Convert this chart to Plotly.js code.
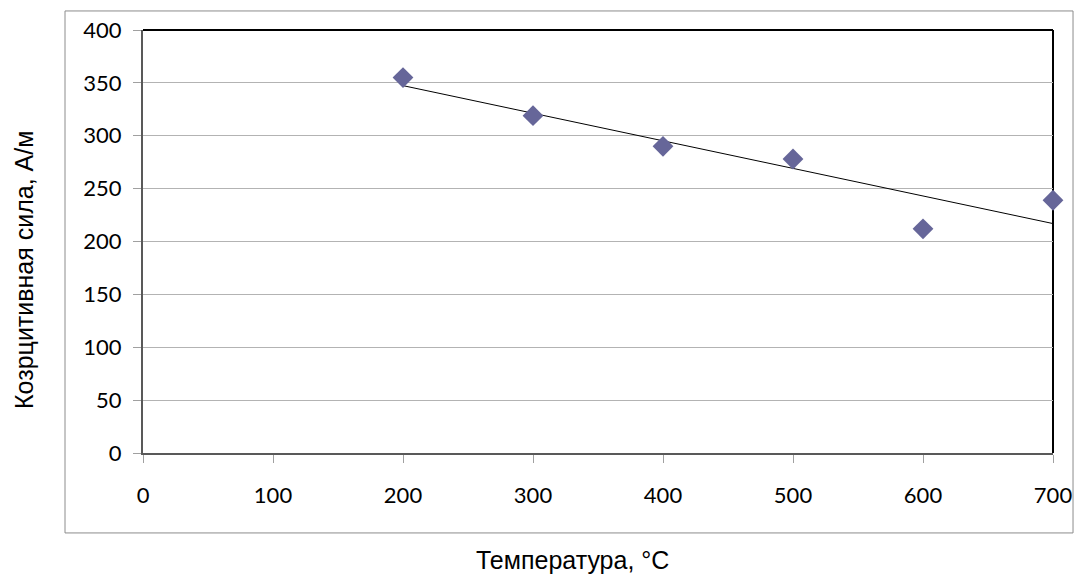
<!DOCTYPE html>
<html><head><meta charset="utf-8">
<script src="https://cdn.plot.ly/plotly-3.0.1.min.js"></script>
<style>html,body{margin:0;padding:0;background:#fff}#chart{width:1074px;height:574px}</style>
</head><body><div id="chart"></div>
<script>
const temperatures = [200, 300, 400, 500, 600, 700];
const coercivity = [355, 319, 290, 278, 212, 239];
const xTickVals = [0, 100, 200, 300, 400, 500, 600, 700];
const yTickVals = [0, 50, 100, 150, 200, 250, 300, 350, 400];
const xTitle = 'Температура, °C';
const yTitle = 'Козрцитивная сила, А/м';

// linear least-squares trendline from the data
const n = temperatures.length;
const mx = temperatures.reduce((a,b)=>a+b,0)/n;
const my = coercivity.reduce((a,b)=>a+b,0)/n;
let sxy=0, sxx=0;
for (let i=0;i<n;i++){ sxy += (temperatures[i]-mx)*(coercivity[i]-my); sxx += (temperatures[i]-mx)**2; }
const slope = sxy/sxx, icpt = my - slope*mx;
const trendX = [temperatures[0], temperatures[n-1]];
const trendY = trendX.map(x=>icpt+slope*x);

const tickFont = {family:'Lato, "Open Sans", sans-serif', size:22, color:'#000'};
const titleFont = {family:'"Liberation Sans", Arial, sans-serif', size:25, color:'#000'};

const traces = [
  {x: trendX, y: trendY, mode:'lines', line:{color:'#000', width:1}, hoverinfo:'skip', showlegend:false},
  {x: temperatures, y: coercivity, mode:'markers', cliponaxis:false,
   marker:{symbol:'diamond', size:16, color:'#666699', line:{width:0}}, showlegend:false}
];

const layout = {
  width:1074, height:574,
  margin:{l:143, r:21, t:30, b:121},
  paper_bgcolor:'#fff', plot_bgcolor:'#fff',
  showlegend:false,
  xaxis:{range:[0,700], tickvals:xTickVals, ticktext:xTickVals.map(String),
    showgrid:false, zeroline:false, showline:true, linecolor:'#595959', linewidth:2,
    ticks:'outside', ticklen:8, tickcolor:'#a0a0a0', tickwidth:1, ticklabelstandoff:14,
    tickfont:tickFont, fixedrange:true},
  yaxis:{range:[0,400], tickvals:yTickVals, ticktext:yTickVals.map(String),
    showgrid:true, gridcolor:'#b3b3b3', gridwidth:1, zeroline:false,
    showline:true, linecolor:'#595959', linewidth:2,
    ticks:'outside', ticklen:8, tickcolor:'#a0a0a0', tickwidth:1, ticklabelstandoff:7,
    tickfont:tickFont, fixedrange:true},
  annotations:[
    {text:xTitle, xref:'paper', yref:'paper', x:0.4725, y:-0.253, xanchor:'center', yanchor:'middle',
     showarrow:false, font:titleFont},
    {text:yTitle, xref:'paper', yref:'paper', x:-0.1308, y:0.4326, xanchor:'center', yanchor:'middle',
     textangle:-90, showarrow:false, font:titleFont}
  ],
  shapes:[
    {type:'rect', xref:'paper', yref:'paper', x0:-0.0857, x1:1.022, y0:-0.189, y1:1.045,
     line:{color:'#8c8c8c', width:1}, fillcolor:'rgba(0,0,0,0)', layer:'below'},
    {type:'line', xref:'paper', yref:'paper', x0:0, x1:1, y0:1, y1:1, line:{color:'#000', width:2}},
    {type:'line', xref:'paper', yref:'paper', x0:1, x1:1, y0:0, y1:1, line:{color:'#000', width:2}, layer:'below'}
  ]
};
Plotly.newPlot('chart', traces, layout, {displayModeBar:false, staticPlot:true});
</script></body></html>
